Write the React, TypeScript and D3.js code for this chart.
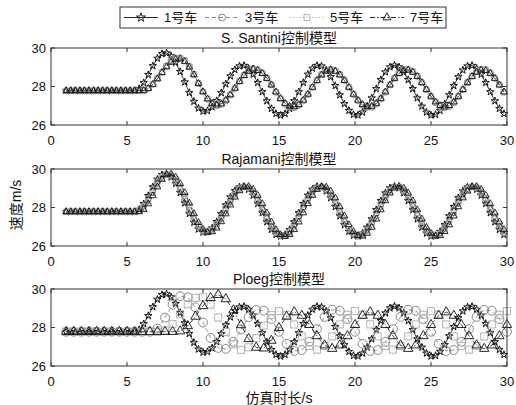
import React from 'react';
import * as d3 from 'd3';

// Sample times (s): fine grid for most series, coarse grid for the Ploeg followers
const T_FINE = [
  1, 1.3, 1.6, 1.9, 2.2, 2.5, 2.8, 3.1, 3.4, 3.7, 4, 4.3, 4.6, 4.9, 5.2, 5.5, 5.8, 6.1, 6.4, 6.7,
  7, 7.3, 7.6, 7.9, 8.2, 8.5, 8.8, 9.1, 9.4, 9.7, 10, 10.3, 10.6, 10.9, 11.2, 11.5, 11.8, 12.1, 12.4, 12.7,
  13, 13.3, 13.6, 13.9, 14.2, 14.5, 14.8, 15.1, 15.4, 15.7, 16, 16.3, 16.6, 16.9, 17.2, 17.5, 17.8, 18.1, 18.4, 18.7,
  19, 19.3, 19.6, 19.9, 20.2, 20.5, 20.8, 21.1, 21.4, 21.7, 22, 22.3, 22.6, 22.9, 23.2, 23.5, 23.8, 24.1, 24.4, 24.7,
  25, 25.3, 25.6, 25.9, 26.2, 26.5, 26.8, 27.1, 27.4, 27.7, 28, 28.3, 28.6, 28.9, 29.2, 29.5, 29.8,
];
const T_COARSE = [
  1, 1.5, 2, 2.5, 3, 3.5, 4, 4.5, 5, 5.5, 6, 6.5, 7, 7.5, 8, 8.5, 9, 9.5, 10, 10.5,
  11, 11.5, 12, 12.5, 13, 13.5, 14, 14.5, 15, 15.5, 16, 16.5, 17, 17.5, 18, 18.5, 19, 19.5, 20, 20.5,
  21, 21.5, 22, 22.5, 23, 23.5, 24, 24.5, 25, 25.5, 26, 26.5, 27, 27.5, 28, 28.5, 29, 29.5, 30,
];

const X_TICKS = [0, 5, 10, 15, 20, 25, 30];
const Y_TICKS = [26, 28, 30];
const CAR_NAMES = ['1号车', '3号车', '5号车', '7号车'];
const PANEL_TITLES = ['S. Santini控制模型', 'Rajamani控制模型', 'Ploeg控制模型'];

// Lead vehicle speed (m/s), identical in every model
const LEAD = [
  27.78, 27.78, 27.78, 27.78, 27.78, 27.78, 27.78, 27.78, 27.78, 27.78, 27.78, 27.78, 27.78, 27.78, 27.78, 27.78,
  27.89, 28.19, 28.61, 29.07, 29.46, 29.70, 29.74, 29.58, 29.24, 28.77, 28.23, 27.68, 27.22, 26.87, 26.71, 26.74,
  26.93, 27.26, 27.67, 28.13, 28.54, 28.87, 29.06, 29.09, 28.94, 28.63, 28.20, 27.72, 27.25, 26.85, 26.59, 26.50,
  26.59, 26.85, 27.25, 27.72, 28.20, 28.63, 28.94, 29.09, 29.06, 28.85, 28.50, 28.04, 27.56, 27.10, 26.75, 26.54,
  26.51, 26.66, 26.97, 27.40, 27.88, 28.35, 28.75, 29.01, 29.10, 29.01, 28.75, 28.35, 27.88, 27.40, 26.97, 26.66,
  26.51, 26.54, 26.75, 27.10, 27.56, 28.04, 28.50, 28.85, 29.06, 29.09, 28.94, 28.63, 28.20, 27.72, 27.25, 26.85,
  26.59,
];

// S. Santini model followers
const SANTINI_CAR3 = [
  27.78, 27.78, 27.78, 27.78, 27.78, 27.78, 27.78, 27.78, 27.78, 27.78, 27.78, 27.78, 27.78, 27.78, 27.78, 27.78, 27.78,
  27.79, 27.90, 28.12, 28.42, 28.75, 29.07, 29.32, 29.47, 29.49, 29.35, 29.05, 28.64, 28.17, 27.72, 27.34, 27.09,
  27.00, 27.07, 27.26, 27.56, 27.91, 28.28, 28.60, 28.83, 28.94, 28.87, 28.71, 28.44, 28.09, 27.71, 27.36, 27.09,
  26.93, 26.91, 27.02, 27.26, 27.59, 27.96, 28.33, 28.63, 28.83, 28.90, 28.83, 28.63, 28.33, 27.96, 27.59, 27.26,
  27.02, 26.91, 26.93, 27.09, 27.36, 27.71, 28.09, 28.44, 28.71, 28.87, 28.89, 28.78, 28.54, 28.21, 27.84, 27.47,
  27.17, 26.97, 26.90, 26.97, 27.17, 27.47, 27.84, 28.21, 28.54, 28.78, 28.89, 28.87, 28.71, 28.44, 28.09, 27.71,
];
const SANTINI_CAR5 = [
  27.78, 27.78, 27.78, 27.78, 27.78, 27.78, 27.78, 27.78, 27.78, 27.78, 27.78, 27.78, 27.78, 27.78, 27.78, 27.78, 27.78,
  27.79, 27.90, 28.12, 28.41, 28.73, 29.05, 29.29, 29.44, 29.46, 29.32, 29.03, 28.63, 28.16, 27.72, 27.35, 27.11,
  27.02, 27.09, 27.27, 27.57, 27.91, 28.27, 28.59, 28.81, 28.92, 28.85, 28.69, 28.43, 28.09, 27.71, 27.37, 27.11,
  26.95, 26.93, 27.04, 27.27, 27.60, 27.96, 28.32, 28.62, 28.81, 28.88, 28.81, 28.62, 28.32, 27.96, 27.60, 27.27,
  27.04, 26.93, 26.95, 27.11, 27.37, 27.71, 28.09, 28.43, 28.69, 28.85, 28.87, 28.76, 28.53, 28.20, 27.84, 27.48,
  27.18, 26.99, 26.92, 26.99, 27.18, 27.48, 27.84, 28.20, 28.53, 28.76, 28.87, 28.85, 28.69, 28.43, 28.09, 27.71,
];
const SANTINI_CAR7 = [
  27.78, 27.78, 27.78, 27.78, 27.78, 27.78, 27.78, 27.78, 27.78, 27.78, 27.78, 27.78, 27.78, 27.78, 27.78, 27.78, 27.78,
  27.80, 27.90, 28.11, 28.40, 28.72, 29.02, 29.26, 29.41, 29.43, 29.29, 29.00, 28.61, 28.16, 27.73, 27.36, 27.12,
  27.04, 27.10, 27.29, 27.57, 27.91, 28.26, 28.57, 28.79, 28.90, 28.83, 28.68, 28.42, 28.08, 27.72, 27.38, 27.12,
  26.97, 26.95, 27.06, 27.29, 27.60, 27.96, 28.31, 28.60, 28.79, 28.86, 28.79, 28.60, 28.31, 27.96, 27.60, 27.29,
  27.06, 26.95, 26.97, 27.12, 27.38, 27.72, 28.08, 28.42, 28.68, 28.83, 28.85, 28.74, 28.52, 28.20, 27.84, 27.49,
  27.20, 27.01, 26.94, 27.01, 27.20, 27.49, 27.84, 28.20, 28.52, 28.74, 28.85, 28.83, 28.68, 28.42, 28.08, 27.72,
];

// Rajamani model followers
const RAJAMANI_CAR3 = [
  27.78, 27.78, 27.78, 27.78, 27.78, 27.78, 27.78, 27.78, 27.78, 27.78, 27.78, 27.78, 27.78, 27.78, 27.78, 27.78,
  27.85, 28.09, 28.47, 28.92, 29.33, 29.62, 29.73, 29.63, 29.35, 28.93,
  28.41, 27.86, 27.37, 26.99, 26.76, 26.73, 26.87, 27.15, 27.53, 27.98,
  28.40, 28.76, 29.00, 29.08, 28.99, 28.73, 28.34, 27.88, 27.41, 26.98,
  26.68, 26.53, 26.56, 26.76, 27.12, 27.56, 28.04, 28.49, 28.84, 29.04,
  29.07, 28.92, 28.62, 28.19, 27.72, 27.25, 26.87, 26.61, 26.52, 26.61,
  26.87, 27.26, 27.72, 28.19, 28.62, 28.92, 29.07, 29.04, 28.84, 28.48,
  28.04, 27.56, 27.11, 26.76, 26.56, 26.53, 26.68, 26.98, 27.41, 27.88,
  28.35, 28.73, 28.99, 29.08, 28.99, 28.73, 28.34, 27.88, 27.41, 26.98, 26.68,
];
const RAJAMANI_CAR5 = [
  27.78, 27.78, 27.78, 27.78, 27.78, 27.78, 27.78, 27.78, 27.78, 27.78, 27.78, 27.78, 27.78, 27.78, 27.78, 27.78,
  27.82, 27.99, 28.33, 28.76, 29.20, 29.54, 29.71, 29.69, 29.47, 29.08,
  28.59, 28.05, 27.53, 27.10, 26.82, 26.72, 26.80, 27.04, 27.40, 27.82,
  28.27, 28.65, 28.93, 29.07, 29.04, 28.84, 28.49, 28.04, 27.56, 27.12,
  26.76, 26.56, 26.53, 26.68, 26.98, 27.41, 27.88, 28.34, 28.73, 28.99,
  29.08, 28.99, 28.73, 28.35, 27.88, 27.41, 26.98, 26.68, 26.53, 26.56,
  26.76, 27.11, 27.56, 28.04, 28.48, 28.84, 29.04, 29.07, 28.92, 28.62,
  28.19, 27.72, 27.26, 26.87, 26.61, 26.52, 26.61, 26.87, 27.25, 27.72,
  28.19, 28.62, 28.92, 29.07, 29.04, 28.84, 28.49, 28.04, 27.56, 27.12, 26.76,
];
const RAJAMANI_CAR7 = [
  27.78, 27.78, 27.78, 27.78, 27.78, 27.78, 27.78, 27.78, 27.78, 27.78, 27.78, 27.78, 27.78, 27.78, 27.78, 27.78, 27.78,
  27.89, 28.19, 28.61, 29.07, 29.46, 29.70, 29.74, 29.58, 29.24, 28.77, 28.23, 27.68, 27.22, 26.87, 26.71, 26.74,
  26.93, 27.26, 27.67, 28.13, 28.54, 28.87, 29.06, 29.09, 28.94, 28.63, 28.20, 27.72, 27.25, 26.85, 26.59, 26.50,
  26.59, 26.85, 27.25, 27.72, 28.20, 28.63, 28.94, 29.09, 29.06, 28.85, 28.50, 28.04, 27.56, 27.10, 26.75, 26.54,
  26.51, 26.66, 26.97, 27.40, 27.88, 28.35, 28.75, 29.01, 29.10, 29.01, 28.75, 28.35, 27.88, 27.40, 26.97, 26.66,
  26.51, 26.54, 26.75, 27.10, 27.56, 28.04, 28.50, 28.85, 29.06, 29.09, 28.94, 28.63, 28.20, 27.72, 27.25, 26.85,
];

// Ploeg model followers (coarse grid)
const PLOEG_CAR3 = [
  27.78, 27.78, 27.78, 27.78, 27.78, 27.78, 27.78, 27.78, 27.78, 27.78, 27.78, 27.78,
  27.94, 28.51, 29.19, 29.62, 29.57, 29.05, 28.26, 27.46, 26.94, 26.89, 27.26, 27.90, 28.54, 28.91,
  28.87, 28.44, 27.78, 27.15, 26.78, 26.83, 27.26, 27.92, 28.55, 28.92,
  28.87, 28.44, 27.78, 27.15, 26.78, 26.83, 27.26, 27.92, 28.55, 28.92,
  28.87, 28.44, 27.78, 27.15, 26.78, 26.83, 27.26, 27.92, 28.55, 28.92,
  28.87, 28.44, 27.78,
];
const PLOEG_CAR5 = [
  27.78, 27.78, 27.78, 27.78, 27.78, 27.78, 27.78, 27.78, 27.78, 27.78, 27.78, 27.78, 27.78,
  27.84, 28.17, 28.69, 29.21, 29.54, 29.57, 29.19, 28.52, 27.76, 27.13, 26.84, 26.97, 27.45, 28.10, 28.64,
  28.85, 28.66, 28.16, 27.54, 27.04, 26.85, 27.04, 27.54, 28.16, 28.66,
  28.85, 28.66, 28.16, 27.54, 27.04, 26.85, 27.04, 27.54, 28.16, 28.66,
  28.85, 28.66, 28.16, 27.54, 27.04, 26.85, 27.04, 27.54, 28.16, 28.66,
  28.85,
];
const PLOEG_CAR7 = [
  27.78, 27.78, 27.78, 27.78, 27.78, 27.78, 27.78, 27.78, 27.78, 27.78, 27.78, 27.78, 27.78, 27.78, 27.78,
  27.81, 28.08, 28.57, 29.12, 29.54, 29.70, 29.48, 28.90, 28.13, 27.41, 26.96, 26.92, 27.32, 27.98, 28.57,
  28.80, 28.62, 28.14, 27.56, 27.08, 26.90, 27.08, 27.56, 28.14, 28.62,
  28.80, 28.62, 28.14, 27.56, 27.08, 26.90, 27.08, 27.56, 28.14, 28.62,
  28.80, 28.62, 28.14, 27.56, 27.08, 26.90, 27.08, 27.56, 28.14,
];

type Style = { stroke: string; dash?: string; symbol: d3.SymbolType; size: number; bigSize: number };

const STYLES: Style[] = [
  { stroke: '#111', symbol: d3.symbolStar, size: 17, bigSize: 17 },
  { stroke: '#7c7c7c', dash: '4,3', symbol: d3.symbolCircle, size: 30, bigSize: 62 },
  { stroke: '#a9a9a9', dash: '1.2,2', symbol: d3.symbolSquare, size: 26, bigSize: 50 },
  { stroke: '#111', dash: '5,2,1.5,2', symbol: d3.symbolTriangle, size: 20, bigSize: 38 },
];

type Series = { car: number; times: number[]; values: number[]; big?: boolean };

const PANELS: { top: number; title: string; series: Series[] }[] = [
  {
    top: 48,
    title: PANEL_TITLES[0],
    series: [
      { car: 0, times: T_FINE, values: LEAD },
      { car: 1, times: T_FINE, values: SANTINI_CAR3 },
      { car: 2, times: T_FINE, values: SANTINI_CAR5 },
      { car: 3, times: T_FINE, values: SANTINI_CAR7 },
    ],
  },
  {
    top: 169,
    title: PANEL_TITLES[1],
    series: [
      { car: 0, times: T_FINE, values: LEAD },
      { car: 1, times: T_FINE, values: RAJAMANI_CAR3 },
      { car: 2, times: T_FINE, values: RAJAMANI_CAR5 },
      { car: 3, times: T_FINE, values: RAJAMANI_CAR7 },
    ],
  },
  {
    top: 289,
    title: PANEL_TITLES[2],
    series: [
      { car: 0, times: T_FINE, values: LEAD },
      { car: 1, times: T_COARSE, values: PLOEG_CAR3, big: true },
      { car: 2, times: T_COARSE, values: PLOEG_CAR5, big: true },
      { car: 3, times: T_COARSE, values: PLOEG_CAR7, big: true },
    ],
  },
];

const FONT = "'Liberation Sans', Arial, 'Noto Sans CJK SC', sans-serif";
const PLOT_LEFT = 51;
const PLOT_RIGHT = 507;
const PLOT_H = 77;
const TICK = 4;

const x = d3.scaleLinear().domain([0, 30]).range([PLOT_LEFT, PLOT_RIGHT]);

function Panel({ top, title, series }: { top: number; title: string; series: Series[] }) {
  const bottom = top + PLOT_H;
  const y = d3.scaleLinear().domain([26, 30]).range([bottom, top]);
  const cx = (PLOT_LEFT + PLOT_RIGHT) / 2;
  return (
    <g>
      <defs>
        <clipPath id={`clip-${top}`}>
          <rect x={PLOT_LEFT - 6} y={top - 6} width={PLOT_RIGHT - PLOT_LEFT + 12} height={PLOT_H + 12} />
        </clipPath>
      </defs>
      <rect x={PLOT_LEFT} y={top} width={PLOT_RIGHT - PLOT_LEFT} height={PLOT_H} fill="#fff" stroke="none" />
      <g clipPath={`url(#clip-${top})`}>
        {series.map((s, si) => {
          const st = STYLES[s.car];
          const line = d3
            .line<number>()
            .x((_, i) => x(s.times[i]))
            .y((v) => y(v));
          const sym = d3.symbol().type(st.symbol).size(s.big ? st.bigSize : st.size)();
          return (
            <g key={si}>
              <path d={line(s.values) || ''} fill="none" stroke={st.stroke} strokeWidth={0.8} strokeDasharray={st.dash} />
              {s.values.map((v, i) => (
                <path
                  key={i}
                  d={sym || ''}
                  transform={`translate(${x(s.times[i])},${y(v)})`}
                  fill="none"
                  stroke={st.stroke}
                  strokeWidth={s.car === 0 ? 1 : 0.9}
                />
              ))}
            </g>
          );
        })}
      </g>
      <rect x={PLOT_LEFT} y={top} width={PLOT_RIGHT - PLOT_LEFT} height={PLOT_H} fill="none" stroke="#333" strokeWidth={1} />
      {X_TICKS.map((t) => (
        <g key={`xt${t}`}>
          <line x1={x(t)} x2={x(t)} y1={bottom} y2={bottom - TICK} stroke="#333" />
          <line x1={x(t)} x2={x(t)} y1={top} y2={top + TICK} stroke="#333" />
          <text x={x(t)} y={bottom + 15} dy="0.35em" textAnchor="middle" fontSize={13} fontFamily={FONT} fill="#111">
            {t}
          </text>
        </g>
      ))}
      {Y_TICKS.map((v) => (
        <g key={`yt${v}`}>
          <line x1={PLOT_LEFT} x2={PLOT_LEFT + TICK} y1={y(v)} y2={y(v)} stroke="#333" />
          <line x1={PLOT_RIGHT} x2={PLOT_RIGHT - TICK} y1={y(v)} y2={y(v)} stroke="#333" />
          <text x={PLOT_LEFT - 5} y={y(v)} dy="0.35em" textAnchor="end" fontSize={13} fontFamily={FONT} fill="#111">
            {v}
          </text>
        </g>
      ))}
      <text x={cx} y={top - 10} dy="0.35em" textAnchor="middle" fontSize={14} fontFamily={FONT} fill="#111">
        {title}
      </text>
    </g>
  );
}

function Legend() {
  const left = 120;
  const right = 446;
  const top = 7;
  const h = 21;
  const mid = top + h / 2;
  const itemX = [124, 205, 290, 370];
  const lineLen = 34;
  return (
    <g>
      <rect x={left} y={top} width={right - left} height={h} fill="#fff" stroke="#333" strokeWidth={1} />
      {CAR_NAMES.map((name, i) => {
        const st = STYLES[i];
        const x0 = itemX[i];
        const sym = d3.symbol().type(st.symbol).size(st.size + 8)();
        return (
          <g key={name}>
            <line x1={x0} x2={x0 + lineLen} y1={mid} y2={mid} stroke={st.stroke} strokeWidth={0.9} strokeDasharray={st.dash} />
            <path d={sym || ''} transform={`translate(${x0 + lineLen / 2},${mid})`} fill="none" stroke={st.stroke} strokeWidth={0.9} />
            <text x={x0 + lineLen + 6} y={mid} dy="0.35em" fontSize={13} fontFamily={FONT} fill="#111">
              {name}
            </text>
          </g>
        );
      })}
    </g>
  );
}

export default function App() {
  return (
    <svg
      width={516}
      height={405}
      viewBox="0 0 516 405"
      style={{ position: 'absolute', left: 0, top: 0, background: '#fff' }}
    >
      <rect x={0} y={0} width={516} height={405} fill="#fff" />
      {PANELS.map((p) => (
        <Panel key={p.top} top={p.top} title={p.title} series={p.series} />
      ))}
      <Legend />
      <text
        transform="translate(16,205) rotate(-90)"
        textAnchor="middle"
        dy="0.35em"
        fontSize={14}
        fontFamily={FONT}
        fill="#111"
      >
        速度m/s
      </text>
      <text x={279} y={398} dy="0.35em" textAnchor="middle" fontSize={14} fontFamily={FONT} fill="#111">
        仿真时长/s
      </text>
    </svg>
  );
}
